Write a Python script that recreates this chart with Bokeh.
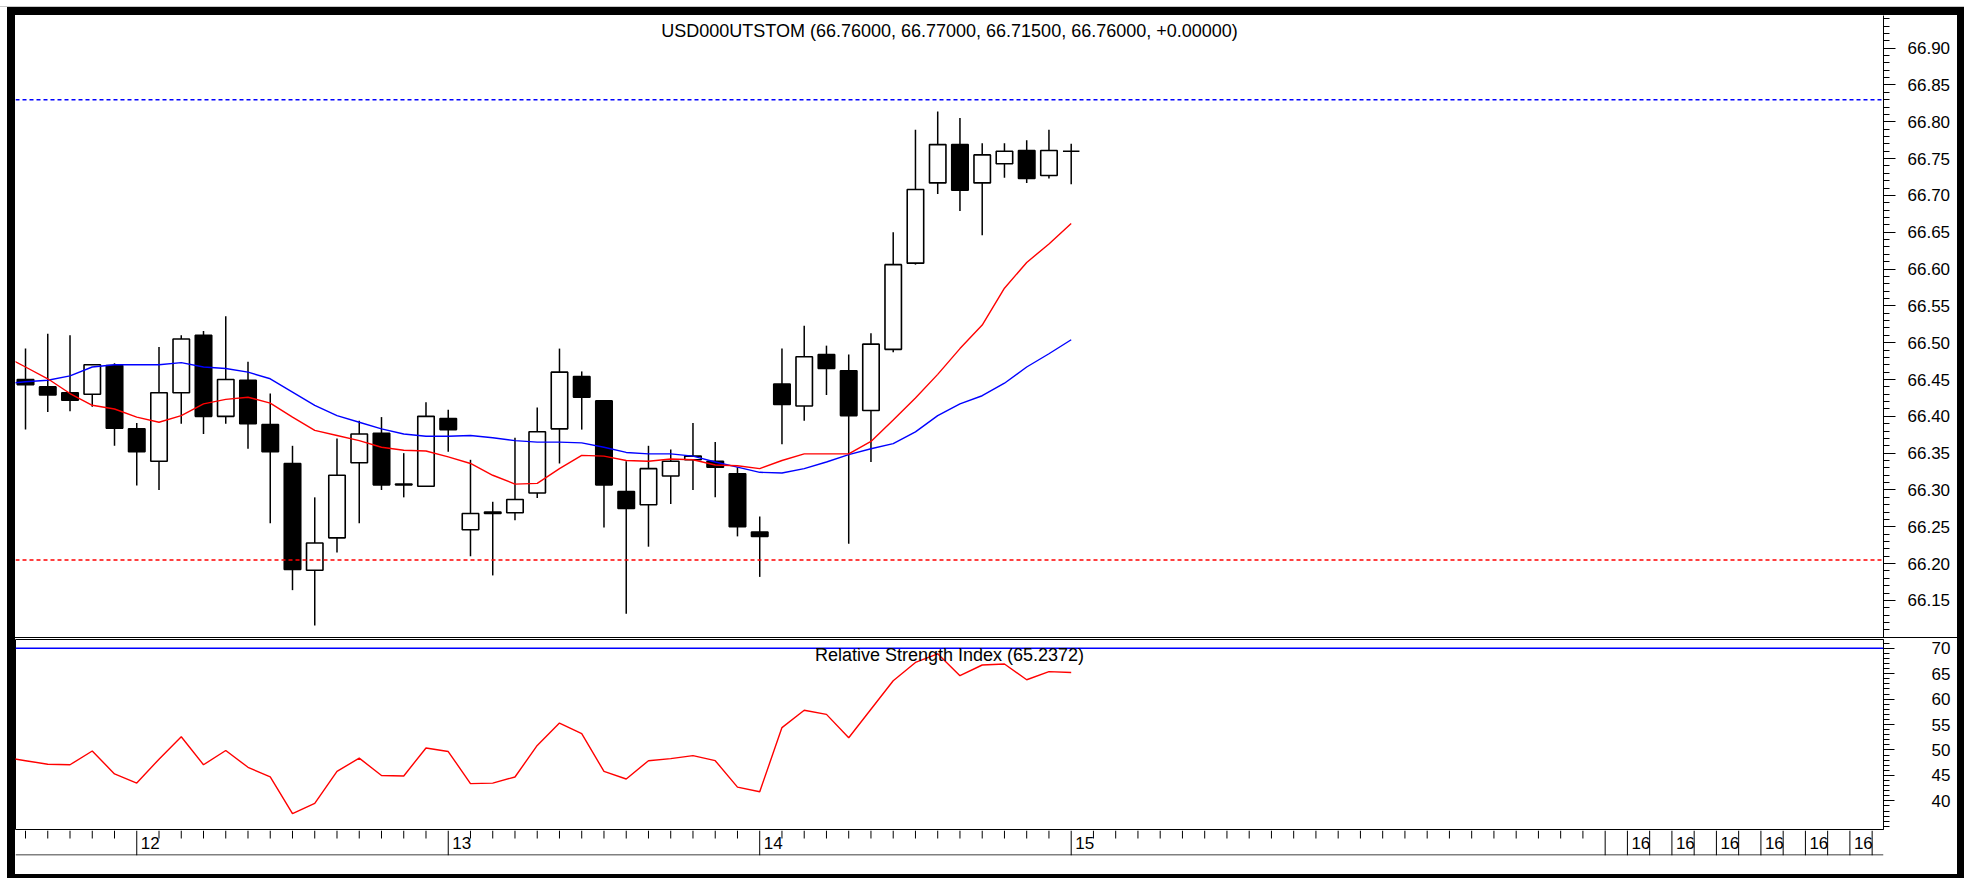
from bokeh.plotting import figure
from bokeh.models import Range1d, FixedTicker, Span, Label, Spacer, NumeralTickFormatter, ColumnDataSource
from bokeh.layouts import column, row
from bokeh.embed import file_html
from bokeh.resources import INLINE
from bokeh.core.properties import value

FONT = "Liberation Sans"

# ---------------- data (hourly candles, USD000UTSTOM) ----------------
open_ = [66.450, 66.440, 66.432, 66.430, 66.469, 66.383, 66.339, 66.432, 66.510, 66.400,
         66.449, 66.389, 66.336, 66.191, 66.235, 66.337, 66.377, 66.308, 66.305, 66.397,
         66.246, 66.270, 66.269, 66.296, 66.383, 66.454, 66.421, 66.298, 66.280, 66.319,
         66.341, 66.339, 66.322, 66.243, 66.444, 66.414, 66.484, 66.462, 66.408, 66.491,
         66.608, 66.717, 66.769, 66.717, 66.743, 66.761, 66.727, 66.760]
high = [66.492, 66.512, 66.510, 66.471, 66.472, 66.391, 66.494, 66.510, 66.516, 66.536,
        66.474, 66.431, 66.360, 66.290, 66.370, 66.394, 66.399, 66.350, 66.419, 66.409,
        66.341, 66.284, 66.371, 66.412, 66.492, 66.461, 66.421, 66.339, 66.360, 66.355,
        66.391, 66.365, 66.331, 66.264, 66.492, 66.523, 66.496, 66.484, 66.513, 66.650,
        66.789, 66.814, 66.805, 66.771, 66.771, 66.775, 66.789, 66.770]
low = [66.382, 66.406, 66.407, 66.413, 66.360, 66.306, 66.300, 66.390, 66.376, 66.390,
       66.356, 66.255, 66.164, 66.116, 66.215, 66.255, 66.300, 66.290, 66.305, 66.352,
       66.210, 66.184, 66.259, 66.289, 66.336, 66.382, 66.249, 66.132, 66.223, 66.281,
       66.300, 66.290, 66.237, 66.182, 66.362, 66.394, 66.429, 66.227, 66.338, 66.487,
       66.606, 66.702, 66.679, 66.646, 66.724, 66.717, 66.723, 66.715]
close = [66.443, 66.429, 66.422, 66.470, 66.384, 66.352, 66.432, 66.505, 66.400, 66.450,
         66.390, 66.352, 66.192, 66.228, 66.320, 66.376, 66.307, 66.307, 66.400, 66.382,
         66.268, 66.268, 66.287, 66.379, 66.460, 66.426, 66.307, 66.275, 66.329, 66.339,
         66.346, 66.331, 66.250, 66.237, 66.416, 66.481, 66.465, 66.401, 66.498, 66.606,
         66.708, 66.769, 66.707, 66.755, 66.760, 66.723, 66.761, 66.760]

# indicator lines start one bar before the first visible candle
ma_fast = [66.483, 66.467, 66.451, 66.431, 66.415, 66.410, 66.399, 66.392, 66.401, 66.417,
           66.423, 66.426, 66.418, 66.399, 66.381, 66.374, 66.367, 66.358, 66.354, 66.353,
           66.345, 66.336, 66.320, 66.308, 66.309, 66.329, 66.347, 66.346, 66.340, 66.339,
           66.342, 66.341, 66.334, 66.333, 66.329, 66.340, 66.349, 66.349, 66.349, 66.366,
           66.395, 66.425, 66.457, 66.492, 66.524, 66.574, 66.609, 66.634, 66.662]
ma_slow = [66.444, 66.447, 66.449, 66.455, 66.467, 66.470, 66.470, 66.470, 66.473, 66.467,
           66.465, 66.460, 66.451, 66.433, 66.415, 66.401, 66.392, 66.383, 66.376, 66.373,
           66.373, 66.374, 66.371, 66.367, 66.365, 66.365, 66.364, 66.358, 66.351, 66.349,
           66.349, 66.346, 66.338, 66.331, 66.324, 66.323, 66.329, 66.338, 66.348, 66.356,
           66.363, 66.379, 66.401, 66.417, 66.428, 66.445, 66.467, 66.485, 66.504]
rsi = [48.6, 47.9, 47.2, 47.1, 49.8, 45.3, 43.5, 48.2, 52.6, 47.1,
       49.9, 46.6, 44.7, 37.5, 39.5, 45.8, 48.4, 45.0, 44.9, 50.4,
       49.7, 43.4, 43.5, 44.7, 50.9, 55.3, 53.2, 45.8, 44.3, 47.9,
       48.3, 48.9, 47.9, 42.7, 41.8, 54.4, 57.8, 57.0, 52.4, 58.0,
       63.6, 67.2, 68.9, 64.6, 66.7, 66.9, 63.8, 65.4, 65.24]

resistance_level = 66.83
support_level = 66.205
rsi_level = 70

price_ticks = [66.15, 66.20, 66.25, 66.30, 66.35, 66.40, 66.45, 66.50,
               66.55, 66.60, 66.65, 66.70, 66.75, 66.80, 66.85, 66.90]
price_tick_labels = ["66.15", "66.20", "66.25", "66.30", "66.35", "66.40", "66.45", "66.50",
                     "66.55", "66.60", "66.65", "66.70", "66.75", "66.80", "66.85", "66.90"]
rsi_ticks = [40, 45, 50, 55, 60, 65, 70]
rsi_tick_labels = ["40", "45", "50", "55", "60", "65", "70"]

day_tick_idx = [5, 19, 33, 47]
day_labels = ["12", "13", "14", "15"]
future_tick_idx = [71, 72, 73, 74, 75, 76, 77, 78, 79, 80, 81, 82, 83]
future_label_idx = [72, 74, 76, 78, 80, 82]
future_labels = ["16", "16", "16", "16", "16", "16"]
last_bar_slot = 70

title_text = "USD000UTSTOM ({:.5f}, {:.5f}, {:.5f}, {:.5f}, +0.00000)".format(
    open_[-1], high[-1], low[-1], close[-1])
rsi_title = "Relative Strength Index (65.2372)"

# ---------------- layout constants ----------------
X_START, X_END = -0.45, 83.51
PRICE_LO, PRICE_HI = 66.0997, 66.9443
RSI_LO, RSI_HI = 34.38, 71.71
INNER_W = 1942
RIGHT_W = 74

n = len(open_)
idx = list(range(n))
ind_x = list(range(-1, n))

x_range = Range1d(X_START, X_END)


def style_axis(ax, ticks, minor, labels, fmt, standoff, tick_out, minor_out):
    ax.ticker = FixedTicker(ticks=ticks, minor_ticks=minor)
    ax.formatter = NumeralTickFormatter(format=fmt)
    ax.major_label_overrides = {t: l for t, l in zip(ticks, labels)}
    ax.axis_line_color = "black"
    ax.axis_line_width = 1
    ax.major_tick_line_color = "black"
    ax.minor_tick_line_color = "black"
    ax.major_tick_out = tick_out
    ax.major_tick_in = 0
    ax.minor_tick_out = minor_out
    ax.minor_tick_in = 0
    ax.major_label_standoff = standoff
    ax.major_label_text_font = FONT
    ax.major_label_text_font_size = "17px"
    ax.major_label_text_color = "black"


# ---------------- price panel ----------------
p = figure(width=INNER_W, height=622, x_range=x_range, y_range=Range1d(PRICE_LO, PRICE_HI),
           x_axis_location=None, y_axis_location="right", toolbar_location=None,
           output_backend="svg", min_border_left=0, min_border_right=RIGHT_W,
           min_border_top=0, min_border_bottom=0, outline_line_color=None,
           background_fill_color="white", border_fill_color="white")
p.grid.visible = False
price_minor = [round(66.10 + 0.01 * k, 2) for k in range(85)]
style_axis(p.yaxis[0], price_ticks, price_minor, price_tick_labels, "0.00", 12, 12, 6)

src = ColumnDataSource(dict(
    x=idx, o=open_, h=high, l=low, c=close,
    top=[max(a, b) for a, b in zip(open_, close)],
    bottom=[min(a, b) for a, b in zip(open_, close)],
    fill=["white" if c > o else "black" for o, c in zip(open_, close)],
))
p.segment(x0="x", y0="l", x1="x", y1="h", source=src, line_color="black", line_width=1.5)
p.vbar(x="x", width=0.74, top="top", bottom="bottom", source=src,
       fill_color="fill", line_color="black", line_width=1.6)

p.line(ind_x, ma_slow, line_color="#0000ff", line_width=1.4)
p.line(ind_x, ma_fast, line_color="#ff0000", line_width=1.4)

p.add_layout(Span(location=resistance_level, dimension="width", line_color="#0000ff",
                  line_dash="4 3", line_width=1.5))
p.add_layout(Span(location=support_level, dimension="width", line_color="#ff0000",
                  line_dash="4 3", line_width=1.5))

px_per_price = 622 / (PRICE_HI - PRICE_LO)
p.add_layout(Label(x=(X_START + X_END) / 2, y=PRICE_HI - 15 / px_per_price, text=title_text,
                   text_align="center", text_baseline="middle", text_font=FONT,
                   text_font_size="18px", text_color="black"))

# ---------------- RSI panel ----------------
r = figure(width=INNER_W, height=192, x_range=x_range, y_range=Range1d(RSI_LO, RSI_HI),
           x_axis_location=None, y_axis_location="right", toolbar_location=None,
           output_backend="svg", min_border_left=0, min_border_right=RIGHT_W,
           min_border_top=1, min_border_bottom=1, outline_line_color="black",
           outline_line_width=1, background_fill_color="white", border_fill_color="white")
r.grid.visible = False
style_axis(r.yaxis[0], rsi_ticks, list(range(35, 72)), rsi_tick_labels, "0", 37, 11, 6)
r.add_layout(Span(location=rsi_level, dimension="width", line_color="#0000ff", line_width=1.6))
r.line(ind_x, rsi, line_color="#ff0000", line_width=1.4)
px_per_rsi = 190 / (RSI_HI - RSI_LO)
r.add_layout(Label(x=(X_START + X_END) / 2, y=RSI_HI - 15 / px_per_rsi, text=rsi_title,
                   text_align="center", text_baseline="middle", text_font=FONT,
                   text_font_size="18px", text_color="black"))

# ---------------- time strip ----------------
t = figure(width=INNER_W, height=44, x_range=x_range, y_range=Range1d(0, 25),
           x_axis_location=None, y_axis_location=None, toolbar_location=None,
           output_backend="svg", min_border_left=0, min_border_right=RIGHT_W,
           min_border_top=0, min_border_bottom=19, outline_line_color=None,
           background_fill_color="white", border_fill_color="white")
t.grid.visible = False
minor_idx = [i for i in range(last_bar_slot + 1) if i not in day_tick_idx]
t.segment(x0=minor_idx, y0=[25] * len(minor_idx), x1=minor_idx, y1=[17] * len(minor_idx),
          line_color="black", line_width=1)
major_idx = day_tick_idx + future_tick_idx
t.segment(x0=major_idx, y0=[0] * len(major_idx), x1=major_idx, y1=[25] * len(major_idx),
          line_color="black", line_width=1)
t.text(x=day_tick_idx + future_label_idx, y=[12.5] * (len(day_tick_idx) + len(future_label_idx)),
       text=day_labels + future_labels, x_offset=4, text_align="left", text_baseline="middle",
       text_font=value(FONT), text_font_size=value("17px"), text_color="black")
t.add_layout(Span(location=0.5, dimension="width", line_color="black", line_width=1))


# ---------------- frame ----------------
def bar(w, h, color):
    return Spacer(width=w, height=h, styles={"background-color": color})


inner = column(bar(INNER_W, 8, "black"), p, bar(INNER_W, 1, "black"), r, t,
               bar(INNER_W, 4, "black"), spacing=0)
middle = row(bar(7, 871, "white"), bar(8, 871, "black"), inner, bar(7, 871, "black"), spacing=0)
layout = column(bar(1964, 6, "white"), bar(1964, 1, "#c8c8c8"), middle, spacing=0)

open("out.html", "w").write(file_html(layout, INLINE))
